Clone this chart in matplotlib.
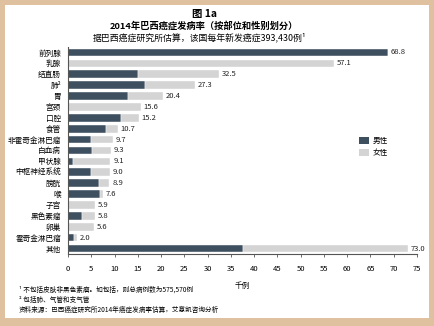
import matplotlib
matplotlib.use('Agg')
import matplotlib.pyplot as plt
from matplotlib.patches import Rectangle, Patch

plt.rcParams['font.family'] = ['Noto Sans CJK SC', 'DejaVu Sans']

# 数据
sites = ['前列腺', '乳腺', '结直肠', '肺²', '胃', '宫颈', '口腔', '食管', '非霍奇金淋巴瘤',
         '白血病', '甲状腺', '中枢神经系统', '膀胱', '喉', '子宫', '黑色素瘤', '卵巢',
         '霍奇金淋巴瘤', '其他']
male = [68.8, 0, 15.1, 16.5, 13.0, 0, 11.3, 8.1, 5.0, 5.1, 1.1, 5.0, 6.7, 6.9, 0, 3.0, 0, 1.3, 37.6]
female = [0, 57.1, 17.4, 10.8, 7.4, 15.6, 3.9, 2.6, 4.7, 4.2, 8.0, 4.0, 2.2, 0.7, 5.9, 2.8, 5.6, 0.7, 35.4]
totals = [68.8, 57.1, 32.5, 27.3, 20.4, 15.6, 15.2, 10.7, 9.7, 9.3, 9.1, 9.0, 8.9, 7.6, 5.9, 5.8, 5.6, 2.0, 73.0]
xticks = list(range(0, 80, 5))

DARK = '#3e4f5f'
LIGHT = '#d4d4d4'
TAN = '#dfc19f'
W, H = 435, 326

fig = plt.figure(figsize=(W / 100, H / 100), dpi=100, facecolor=TAN)
# 白色底板，放在坐标轴下面
fig.patches.append(Rectangle((5 / W, 1 - 318 / H), 424 / W, 313 / H,
                             transform=fig.transFigure, facecolor='white',
                             edgecolor='none', zorder=-5))

ax = fig.add_axes([68 / W, 1 - 254 / H, (417 - 68) / W, 207 / H])
ax.set_facecolor('none')

ypos = list(range(len(sites)))
ax.barh(ypos, male, height=0.7, color=DARK, edgecolor='white', linewidth=0.3)
ax.barh(ypos, female, left=male, height=0.7, color=LIGHT, edgecolor='white', linewidth=0.3)
for y, t in zip(ypos, totals):
    ax.text(t + 0.6, y, f'{t:.1f}', va='center', ha='left', fontsize=5.5, color='#222222')

ax.set_ylim(18.5, -0.5)
ax.set_xlim(0, 75)
ax.set_yticks(ypos)
ax.set_yticklabels(sites, fontsize=5.5)
ax.set_xticks(xticks)
ax.set_xticklabels([str(v) for v in xticks], fontsize=5.5)
ax.tick_params(axis='y', length=0, pad=5)
ax.tick_params(axis='x', length=2, width=0.6, pad=6, color='#555555')
for s in ['top', 'right']:
    ax.spines[s].set_visible(False)
ax.spines['left'].set_color('#555555')
ax.spines['bottom'].set_color('#555555')
ax.spines['left'].set_linewidth(0.8)
ax.spines['bottom'].set_linewidth(0.8)
ax.set_xlabel('千例', fontsize=5.5, labelpad=6)

handles = [Patch(facecolor=DARK, label='男性'), Patch(facecolor=LIGHT, label='女性')]
fig.legend(handles=handles, loc='upper left', bbox_to_anchor=(352 / W, 1 - 130 / H),
           frameon=False, fontsize=5.5, handlelength=1.3, handleheight=1.1,
           handletextpad=0.5, labelspacing=0.5)

fig.text(205 / W, 1 - 14 / H, '图 1a', ha='center', va='center', fontsize=7.5, fontweight='bold')
fig.text(204 / W, 1 - 25.5 / H, '2014年巴西癌症发病率（按部位和性别划分）', ha='center',
         va='center', fontsize=6.7, fontweight='bold')
fig.text(200 / W, 1 - 37 / H, '据巴西癌症研究所估算，该国每年新发癌症393,430例¹', ha='center',
         va='center', fontsize=6.4, style='italic')

fig.text(19 / W, 1 - 290 / H, '¹ 不包括皮肤非黑色素瘤。如包括，则总病例数为575,570例',
         ha='left', va='center', fontsize=4.75)
fig.text(19 / W, 1 - 299.5 / H, '² 包括肺、气管和支气管', ha='left', va='center', fontsize=4.75)
fig.text(19 / W, 1 - 310 / H, '资料来源：巴西癌症研究所2014年癌症发病率估算，艾意凯咨询分析',
         ha='left', va='center', fontsize=4.75)

fig.savefig('out.png', dpi=100, facecolor=TAN)
